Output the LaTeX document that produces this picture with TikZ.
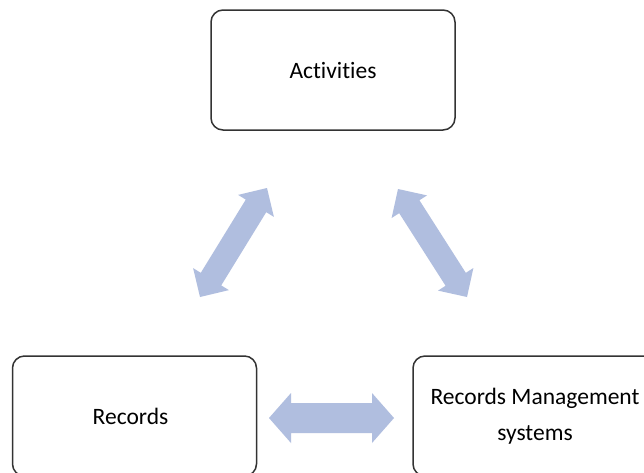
\documentclass[tikz,border=0pt]{standalone}
\usepackage{fontspec}
\setmainfont{Carlito}[Ligatures=NoCommon, RawFeature={-liga;-dlig}]
\usetikzlibrary{calc}
\definecolor{arrowfill}{HTML}{B0BEDF}
\definecolor{boxline}{HTML}{333333}
\tikzset{
  box/.style={draw=boxline, line width=1.5pt, rounded corners=12pt, fill=white,
    minimum width=244pt, minimum height=120pt, align=center,
    font=\fontsize{23.5}{36}\selectfont, inner sep=0pt},
  blockfill/.style={fill=arrowfill, draw=none}
}
% #1 from, #2 to, #3 shaft half width, #4 head half width, #5 head length
\newcommand\blockarrow[5]{%
  \fill[blockfill]
    (#1)
    -- ($(#1)!#5!(#2)!#4!90:(#2)$)
    -- ($(#1)!#5!(#2)!#3!90:(#2)$)
    -- ($(#2)!#5!(#1)!#3!-90:(#1)$)
    -- ($(#2)!#5!(#1)!#4!-90:(#1)$)
    -- (#2)
    -- ($(#2)!#5!(#1)!#4!90:(#1)$)
    -- ($(#2)!#5!(#1)!#3!90:(#1)$)
    -- ($(#1)!#5!(#2)!#3!-90:(#2)$)
    -- ($(#1)!#5!(#2)!#4!-90:(#2)$)
    -- cycle;}
\begin{document}
\begin{tikzpicture}[x=1pt,y=-1pt]
\useasboundingbox (0,0) rectangle (644,472);
\clip (0,0) rectangle (644,472);
\fill[white] (0,0) rectangle (644,472);
\node[box] (act) at (333,70) {Ac\kern0pt t\kern0pt i\kern0pt vi\kern0pt t\kern0pt i\kern0pt es};
\node[box] (rec) at (134.5,416) {Records\hspace*{8pt}};
\node[box] (rms) at (535,416) {Records Management\\systems};
% arrow end points
\coordinate (l1) at (200,297);
\coordinate (l2) at (267,188);
\coordinate (r1) at (398,189);
\coordinate (r2) at (467,297);
\coordinate (h1) at (269,418);
\coordinate (h2) at (394,418);
\blockarrow{l1}{l2}{12pt}{21pt}{21pt}
\blockarrow{r1}{r2}{12pt}{21pt}{21pt}
\blockarrow{h1}{h2}{15pt}{25pt}{22pt}
\end{tikzpicture}
\end{document}
